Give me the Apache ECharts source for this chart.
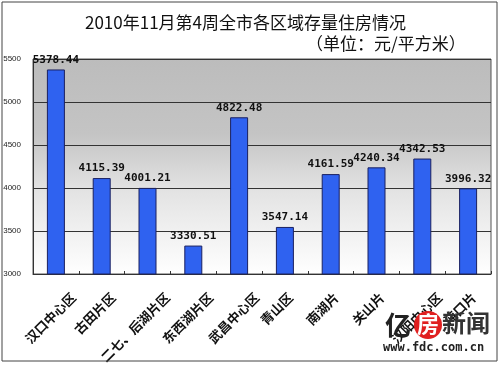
<!DOCTYPE html>
<html><head><meta charset="utf-8">
<script src="https://cdn.jsdelivr.net/npm/echarts@6/dist/echarts.min.js"></script>
<style>html,body{margin:0;padding:0;background:#fff}#c{width:500px;height:366px}</style>
</head><body><div id="c"></div>
<script>
const categories = ['汉口中心区','古田片区','二七、后湖片区','东西湖片区','武昌中心区','青山区','南湖片','关山片','汉阳中心区','沌口片'];
const values = [5378.44, 4115.39, 4001.21, 3330.51, 4822.48, 3547.14, 4161.59, 4240.34, 4342.53, 3996.32];
const titleText = '2010年11月第4周全市各区域存量住房情况';
const unitText = '（单位：元/平方米）';

// rotated-label offset styles (Excel places longer labels further right)
const K = 28.3, R2 = Math.SQRT1_2;
const rich = {};
for (let n = 1; n <= 10; n++) {
  const dx = Math.min(20, Math.max(3, 5.5 + (n - 3) * 6));
  const b = (dx / R2 + K) / 2, a = (dx / R2 - K) / 2;
  const lh = 2 * b;
  const base = {fontFamily: 'Noto Sans CJK SC', fontWeight: 'bold', fontSize: 13, color: '#111', lineHeight: lh};
  rich['h' + n] = Object.assign({}, base);
  rich['t' + n] = Object.assign({}, base);
  rich['g' + n] = Object.assign({}, base, {width: Math.max(0.1, -a)});
}

const chart = echarts.init(document.getElementById('c'));
chart.setOption({
  animation: false,
  title: [
    {text: titleText, left: 85, top: 14, padding: 0,
     textStyle: {fontFamily: 'Noto Sans CJK SC', fontWeight: 'normal', fontSize: 17, color: '#111'}},
    {text: unitText, left: 306, top: 35, padding: 0,
     textStyle: {fontFamily: 'Noto Sans CJK SC', fontWeight: 'normal', fontSize: 17, color: '#111'}}
  ],
  grid: {left: 33, right: 9, top: 59, bottom: 92, show: true, containLabel: false, outerBoundsMode: 'none',
    backgroundColor: new echarts.graphic.LinearGradient(0, 0, 0, 1, [
      {offset: 0, color: '#bcbcbc'}, {offset: 0.35, color: '#c4c4c4'}, {offset: 0.6, color: '#e2e2e2'}, {offset: 1, color: '#ffffff'}]),
    borderColor: '#555', borderWidth: 1},
  xAxis: {type: 'category', data: categories,
    axisLine: {lineStyle: {color: '#333'}},
    axisTick: {show: true, inside: true, length: 3, lineStyle: {color: '#333'}},
    axisLabel: {rotate: 45, interval: 0, margin: 1, hideOverlap: false,
      formatter: v => { const n = v.length; return '{h' + n + '| }\n{t' + n + '|' + v + '}{g' + n + '| }'; },
      rich: rich, fontFamily: 'Noto Sans CJK SC', fontWeight: 'bold', fontSize: 13, color: '#111'}},
  yAxis: {type: 'value', min: 3000, max: 5500, interval: 500,
    axisLine: {show: true, lineStyle: {color: '#333'}},
    axisTick: {show: false},
    splitLine: {lineStyle: {color: '#333', width: 1}},
    axisLabel: {formatter: v => String(v), fontFamily: 'Liberation Sans', fontSize: 8, color: '#222', margin: 12}},
  series: [{type: 'bar', data: values, barWidth: 18,
    itemStyle: {color: '#2f62f0', borderColor: '#1a2060', borderWidth: 1},
    label: {show: true, position: 'top', distance: 4, formatter: p => p.value.toFixed(2),
      fontFamily: 'DejaVu Sans Mono', fontWeight: 'bold', fontSize: 11, color: '#111'}}],
  graphic: [
    {type: 'rect', shape: {x: 2, y: 2, width: 495, height: 359}, style: {fill: 'none', stroke: '#444', lineWidth: 1}, z: 100},
    {type: 'text', left: 385, top: 312, style: {text: '亿', font: 'bold 26px "Noto Sans CJK SC"', fill: '#222'}, z: 100},
    {type: 'circle', shape: {cx: 428, cy: 325, r: 14}, style: {fill: '#e02020'}, z: 100},
    {type: 'text', left: 417, top: 313, style: {text: '房', font: 'bold 22px "Noto Sans CJK SC"', fill: '#fff'}, z: 101},
    {type: 'text', left: 442, top: 311, style: {text: '新闻', font: 'bold 24px "Noto Sans CJK SC"', fill: '#333'}, z: 100},
    {type: 'text', left: 383, top: 342, style: {text: 'www.fdc.com.cn', font: 'bold 12px "DejaVu Sans Mono"', fill: '#222'}, z: 100}
  ]
});
</script></body></html>
